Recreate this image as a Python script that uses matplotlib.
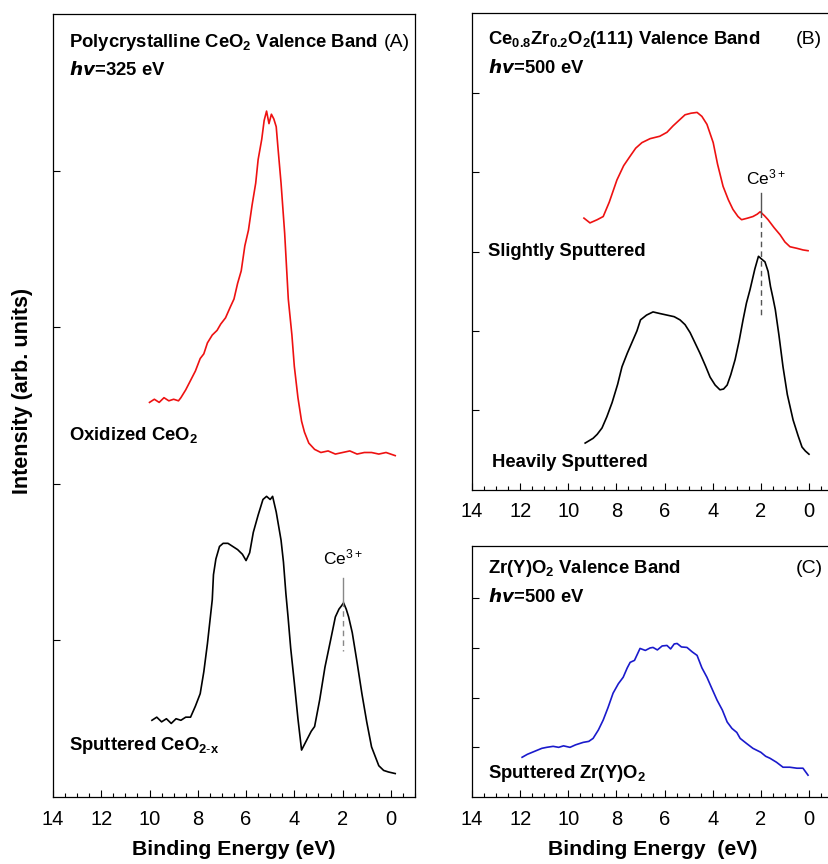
import numpy as np
import matplotlib.pyplot as plt
from matplotlib.ticker import MultipleLocator

plt.rcParams['font.family'] = ['Liberation Sans', 'DejaVu Sans']
plt.rcParams['mathtext.fontset'] = 'custom'
plt.rcParams['mathtext.rm'] = 'Liberation Sans'
plt.rcParams['mathtext.it'] = 'Liberation Sans:italic'
plt.rcParams['mathtext.bf'] = 'Liberation Sans:bold'

## Panel A - polycrystalline CeO2
a_ox_x = [10.0, 9.8, 9.6, 9.4, 9.2, 9.0, 8.8, 8.7, 8.5, 8.3, 8.1, 7.9, 7.75, 7.6, 7.4, 7.2, 7.05,
          6.85, 6.65, 6.5, 6.35, 6.2, 6.05, 5.9, 5.75, 5.6, 5.5, 5.35, 5.25, 5.15, 5.05, 4.95,
          4.85, 4.75, 4.68, 4.55, 4.4, 4.25, 4.1, 4.0, 3.85, 3.7, 3.58, 3.4, 3.16, 2.9, 2.6,
          2.3, 2.0, 1.7, 1.4, 1.1, 0.8, 0.5, 0.2, -0.18]
a_ox_y = [2.52, 2.54, 2.52, 2.55, 2.53, 2.54, 2.53, 2.55, 2.6, 2.66, 2.72, 2.8, 2.83, 2.9, 2.95,
          2.98, 3.02, 3.06, 3.13, 3.18, 3.28, 3.36, 3.52, 3.62, 3.78, 3.92, 4.07, 4.2, 4.32, 4.38,
          4.3, 4.36, 4.33, 4.28, 4.15, 3.92, 3.6, 3.18, 2.95, 2.75, 2.55, 2.4, 2.33, 2.26, 2.22,
          2.2, 2.21, 2.19, 2.2, 2.21, 2.19, 2.2, 2.2, 2.19, 2.2, 2.18]

a_sp_x = [9.9, 9.7, 9.5, 9.3, 9.1, 8.9, 8.7, 8.5, 8.3, 8.1, 7.9, 7.75, 7.6, 7.5, 7.4, 7.35, 7.25,
          7.1, 6.95, 6.75, 6.55, 6.35, 6.15, 6.0, 5.85, 5.7, 5.5, 5.3, 5.15, 5.0, 4.9, 4.75,
          4.55, 4.45, 4.35, 4.26, 4.15, 4.0, 3.85, 3.7, 3.5, 3.3, 3.16, 2.95, 2.73, 2.5, 2.3,
          2.15, 2.05, 1.96, 1.85, 1.75, 1.6, 1.4, 1.2, 1.0, 0.8, 0.65, 0.5, 0.3, 0.1, -0.18]
a_sp_y = [0.49, 0.51, 0.48, 0.5, 0.47, 0.5, 0.49, 0.51, 0.51, 0.58, 0.66, 0.8, 0.98, 1.12, 1.26,
          1.42, 1.52, 1.6, 1.62, 1.62, 1.6, 1.58, 1.55, 1.51, 1.56, 1.69, 1.8, 1.9, 1.92, 1.9,
          1.92, 1.82, 1.64, 1.5, 1.3, 1.15, 0.95, 0.73, 0.5, 0.3, 0.36, 0.42, 0.45, 0.62, 0.83,
          1.0, 1.15, 1.2, 1.22, 1.24, 1.2, 1.15, 1.05, 0.86, 0.66, 0.48, 0.32, 0.26, 0.2, 0.17,
          0.16, 0.15]

## Panel B - Ce0.8Zr0.2O2(111)
b_sl_x = [9.35, 9.1, 8.8, 8.55, 8.3, 7.98, 7.7, 7.43, 7.2, 6.94, 6.6, 6.2, 5.9, 5.65, 5.4, 5.15,
          4.9, 4.65, 4.45, 4.24, 3.98, 3.8, 3.57, 3.35, 3.16, 2.95, 2.8, 2.55, 2.33, 2.15, 2.03,
          1.85, 1.7, 1.45, 1.2, 1.0, 0.79, 0.5, 0.25, 0.04]
b_sl_y = [3.42, 3.36, 3.4, 3.44, 3.62, 3.9, 4.08, 4.2, 4.3, 4.37, 4.42, 4.45, 4.5, 4.58, 4.65,
          4.72, 4.74, 4.75, 4.7, 4.6, 4.37, 4.1, 3.82, 3.65, 3.53, 3.44, 3.4, 3.42, 3.44, 3.47,
          3.5, 3.45, 3.4, 3.3, 3.21, 3.12, 3.06, 3.04, 3.02, 3.01]

b_hv_x = [9.3, 8.97, 8.8, 8.6, 8.4, 8.18, 7.95, 7.77, 7.55, 7.35, 7.15, 7.0, 6.75, 6.48, 6.2,
          5.9, 5.6, 5.36, 5.15, 4.94, 4.75, 4.53, 4.3, 4.11, 3.9, 3.7, 3.55, 3.4, 3.25, 3.07,
          2.9, 2.74, 2.6, 2.45, 2.25, 2.1, 1.95, 1.83, 1.7, 1.6, 1.5, 1.4, 1.25, 1.08, 0.9,
          0.66, 0.45, 0.29, 0.15, 0.0]
b_hv_y = [0.59, 0.65, 0.7, 0.78, 0.92, 1.1, 1.33, 1.55, 1.72, 1.86, 2.0, 2.14, 2.2, 2.24, 2.22,
          2.2, 2.18, 2.14, 2.08, 1.98, 1.86, 1.72, 1.56, 1.42, 1.32, 1.26, 1.27, 1.32, 1.45, 1.64,
          1.88, 2.14, 2.35, 2.52, 2.78, 2.94, 2.9, 2.87, 2.75, 2.56, 2.42, 2.27, 1.95, 1.55, 1.2,
          0.88, 0.68, 0.54, 0.49, 0.45]

## Panel C - Zr(Y)O2
c_x = [11.92, 11.7, 11.5, 11.3, 11.1, 10.9, 10.63, 10.4, 10.2, 9.93, 9.7, 9.38, 9.15, 8.97,
       8.75, 8.55, 8.35, 8.14, 7.92, 7.72, 7.55, 7.43, 7.25, 7.02, 6.8, 6.6, 6.48, 6.3, 6.1,
       5.9, 5.75, 5.6, 5.48, 5.3, 5.07, 4.85, 4.65, 4.45, 4.24, 4.05, 3.82, 3.6, 3.4, 3.2,
       3.0, 2.86, 2.6, 2.33, 2.0, 1.8, 1.62, 1.35, 1.08, 0.8, 0.5, 0.25, 0.04]
c_y = [0.8, 0.86, 0.9, 0.94, 0.98, 1.0, 1.02, 1.0, 1.03, 1.0, 1.05, 1.1, 1.12, 1.18, 1.35,
       1.55, 1.8, 2.09, 2.28, 2.41, 2.6, 2.71, 2.75, 2.99, 2.95, 3.0, 3.01, 2.96, 3.04, 3.05,
       2.98, 3.08, 3.09, 3.02, 3.01, 2.92, 2.85, 2.6, 2.41, 2.2, 1.95, 1.75, 1.51, 1.38, 1.3,
       1.18, 1.08, 0.98, 0.9, 0.82, 0.78, 0.7, 0.6, 0.6, 0.58, 0.58, 0.44]

x_ticks = [14, 12, 10, 8, 6, 4, 2, 0]

fig = plt.figure(figsize=(8.29, 8.64), dpi=100)
axA = fig.add_axes([0.0639, 0.0775, 0.4367, 0.9063])
axB = fig.add_axes([0.5694, 0.4329, 0.4355, 0.552])
axC = fig.add_axes([0.5694, 0.0775, 0.4355, 0.2905])

axA.set_ylim(0, 5)
axB.set_ylim(0, 6)
axC.set_ylim(0, 5.05)

for ax in (axA, axB, axC):
    ax.set_xlim(14, -1)
    ax.set_xticks(x_ticks)
    ax.xaxis.set_minor_locator(MultipleLocator(0.5))
    top = ax.get_ylim()[1]
    ax.set_yticks([t for t in range(1, 6) if t < top - 0.5])
    ax.set_yticklabels([])
    ax.tick_params(which='both', direction='in', labelsize=14.5, width=0.8)
    ax.tick_params(which='major', length=5)
    ax.tick_params(which='minor', length=3)
    ax.tick_params(axis='x', pad=9)
    for s in ax.spines.values():
        s.set_linewidth(0.9)

# curves
axA.plot(a_ox_x, a_ox_y, color='#ee1111', lw=1.2)
axA.plot(a_sp_x, a_sp_y, color='black', lw=1.2)
axB.plot(b_sl_x, b_sl_y, color='#ee1111', lw=1.2)
axB.plot(b_hv_x, b_hv_y, color='black', lw=1.2)
axC.plot(c_x, c_y, color='#1a1acc', lw=1.2)

# Ce3+ markers
axA.plot([2, 2], [1.40, 1.25], color='#888888', lw=1)
axA.plot([2, 2], [1.25, 0.93], color='#888888', lw=1, ls=(0, (4, 3)))
axA.text(2, 1.53, 'Ce$^{3+}$', ha='center', va='center', fontsize=12.5)
axB.plot([2, 2], [3.74, 3.5], color='#555555', lw=1)
axB.plot([2, 2], [3.5, 2.2], color='#555555', lw=1, ls=(0, (4, 3)))
axB.text(1.8, 3.93, 'Ce$^{3+}$', ha='center', va='center', fontsize=12.5)

# text labels
kw = dict(fontsize=13.3, fontweight='bold', va='center', ha='left')
axA.text(13.33, 4.82, 'Polycrystalline CeO$_\\mathbf{2}$ Valence Band', **kw)
axA.text(-0.8, 4.82, '(A)', fontsize=14, va='center', ha='right')
axA.text(13.33, 4.64, '$\\mathbfit{hv}$=325 eV', **kw)
axA.text(13.33, 2.31, 'Oxidized CeO$_\\mathbf{2}$', **kw)
axA.text(13.33, 0.33, 'Sputtered CeO$_\\mathbf{2\\text{-}x}$', **kw)

axB.text(13.34, 5.67, 'Ce$_\\mathbf{0.8}$Zr$_\\mathbf{0.2}$O$_\\mathbf{2}$(111) Valence Band', **kw)
axB.text(0.0, 5.67, '(B)', fontsize=14, va='center', ha='center')
axB.text(13.34, 5.31, '$\\mathbfit{hv}$=500 eV', **kw)
axB.text(13.34, 3.0, 'Slightly Sputtered', **kw)
axB.text(13.17, 0.35, 'Heavily Sputtered', **kw)

axC.text(13.34, 4.6, 'Zr(Y)O$_\\mathbf{2}$ Valence Band', **kw)
axC.text(0.0, 4.6, '(C)', fontsize=14, va='center', ha='center')
axC.text(13.34, 4.02, '$\\mathbfit{hv}$=500 eV', **kw)
axC.text(13.34, 0.48, 'Sputtered Zr(Y)O$_\\mathbf{2}$', **kw)

axA.set_xlabel('Binding Energy (eV)', fontsize=15.3, fontweight='bold', labelpad=8)
axC.set_xlabel('Binding Energy  (eV)', fontsize=15.3, fontweight='bold', labelpad=8)
fig.text(0.027, 0.548, 'Intensity (arb. units)', rotation=90, fontsize=15.5,
         fontweight='bold', ha='center', va='center')

fig.savefig('out.png', dpi=100)
